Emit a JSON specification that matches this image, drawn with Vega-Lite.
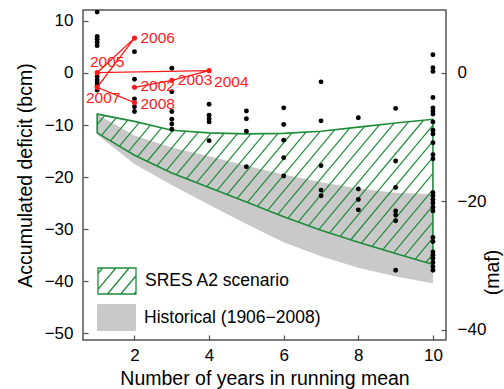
{
  "$schema": "https://vega.github.io/schema/vega-lite/v6.json",
  "width": 363,
  "height": 330,
  "autosize": {"type": "none"},
  "padding": {"left": 83, "top": 10, "right": 58, "bottom": 49},
  "config": {
    "font": "Liberation Sans",
    "view": {"stroke": "#555555", "strokeWidth": 1.5},
    "axis": {"domain": false, "grid": false, "tickSize": -5, "tickColor": "#555555", "tickWidth": 1.2, "labelFontSize": 17, "labelColor": "#000000", "titleFontSize": 19.5, "titleFontWeight": "normal", "titleColor": "#000000", "labelFont": "Liberation Sans", "titleFont": "Liberation Sans"},
    "legend": {"labelFontSize": 17.5, "labelColor": "#000000", "labelFont": "Liberation Sans", "labelOffset": 8, "labelLimit": 400, "symbolSize": 1444}
  },
  "datasets": {
    "hist": [
      {"n": 1, "d": -8.0, "d2": -11.8, "series": "Historical (1906−2008)"},
      {"n": 2, "d": -12.0, "d2": -17.5, "series": "Historical (1906−2008)"},
      {"n": 3, "d": -14.3, "d2": -21.5, "series": "Historical (1906−2008)"},
      {"n": 4, "d": -16.0, "d2": -25.3, "series": "Historical (1906−2008)"},
      {"n": 5, "d": -17.8, "d2": -29.0, "series": "Historical (1906−2008)"},
      {"n": 6, "d": -19.5, "d2": -32.5, "series": "Historical (1906−2008)"},
      {"n": 7, "d": -21.0, "d2": -35.2, "series": "Historical (1906−2008)"},
      {"n": 8, "d": -22.2, "d2": -37.4, "series": "Historical (1906−2008)"},
      {"n": 9, "d": -23.0, "d2": -39.1, "series": "Historical (1906−2008)"},
      {"n": 10, "d": -23.3, "d2": -40.4, "series": "Historical (1906−2008)"}
    ],
    "sres": [
      {"n": 1, "d": -7.9, "d2": -11.5, "series": "SRES A2 scenario"},
      {"n": 2, "d": -9.3, "d2": -15.8, "series": "SRES A2 scenario"},
      {"n": 3, "d": -11.0, "d2": -19.2, "series": "SRES A2 scenario"},
      {"n": 4, "d": -11.5, "d2": -22.0, "series": "SRES A2 scenario"},
      {"n": 5, "d": -11.7, "d2": -24.8, "series": "SRES A2 scenario"},
      {"n": 6, "d": -11.6, "d2": -27.6, "series": "SRES A2 scenario"},
      {"n": 7, "d": -11.2, "d2": -30.2, "series": "SRES A2 scenario"},
      {"n": 8, "d": -10.4, "d2": -32.5, "series": "SRES A2 scenario"},
      {"n": 9, "d": -9.6, "d2": -34.7, "series": "SRES A2 scenario"},
      {"n": 10, "d": -8.9, "d2": -36.8, "series": "SRES A2 scenario"}
    ],
    "hatch": [
      {"n": 1, "d": -9.9, "n2": 1.2, "d2": -8.18},
      {"n": 1.116, "d": -12.0, "n2": 1.51, "d2": -8.61},
      {"n": 1.357, "d": -13.03, "n2": 1.82, "d2": -9.05},
      {"n": 1.597, "d": -14.07, "n2": 2.126, "d2": -9.52},
      {"n": 1.837, "d": -15.1, "n2": 2.427, "d2": -10.03},
      {"n": 2.083, "d": -16.08, "n2": 2.728, "d2": -10.54},
      {"n": 2.342, "d": -16.96, "n2": 3.033, "d2": -11.02},
      {"n": 2.6, "d": -17.84, "n2": 3.374, "d2": -11.18},
      {"n": 2.858, "d": -18.72, "n2": 3.714, "d2": -11.36},
      {"n": 3.123, "d": -19.54, "n2": 4.057, "d2": -11.51},
      {"n": 3.395, "d": -20.3, "n2": 4.409, "d2": -11.58},
      {"n": 3.667, "d": -21.07, "n2": 4.761, "d2": -11.66},
      {"n": 3.939, "d": -21.83, "n2": 5.118, "d2": -11.69},
      {"n": 4.211, "d": -22.59, "n2": 5.482, "d2": -11.65},
      {"n": 4.482, "d": -23.35, "n2": 5.847, "d2": -11.62},
      {"n": 4.754, "d": -24.11, "n2": 6.22, "d2": -11.51},
      {"n": 5.026, "d": -24.87, "n2": 6.598, "d2": -11.36},
      {"n": 5.298, "d": -25.64, "n2": 6.976, "d2": -11.21},
      {"n": 5.57, "d": -26.4, "n2": 7.372, "d2": -10.9},
      {"n": 5.842, "d": -27.16, "n2": 7.769, "d2": -10.59},
      {"n": 6.116, "d": -27.9, "n2": 8.167, "d2": -10.27},
      {"n": 6.393, "d": -28.62, "n2": 8.564, "d2": -9.95},
      {"n": 6.67, "d": -29.34, "n2": 8.962, "d2": -9.63},
      {"n": 6.946, "d": -30.06, "n2": 9.354, "d2": -9.36},
      {"n": 7.229, "d": -30.73, "n2": 9.747, "d2": -9.08},
      {"n": 7.514, "d": -31.38, "n2": 10, "d2": -10.0},
      {"n": 7.798, "d": -32.04, "n2": 10, "d2": -13.1},
      {"n": 8.083, "d": -32.69, "n2": 10, "d2": -16.2},
      {"n": 8.37, "d": -33.32, "n2": 10, "d2": -19.3},
      {"n": 8.657, "d": -33.95, "n2": 10, "d2": -22.4},
      {"n": 8.944, "d": -34.58, "n2": 10, "d2": -25.5},
      {"n": 9.234, "d": -35.19, "n2": 10, "d2": -28.6},
      {"n": 9.523, "d": -35.8, "n2": 10, "d2": -31.7},
      {"n": 9.813, "d": -36.41, "n2": 10, "d2": -34.8}
    ],
    "dots": [
      {"n": 1, "d": 11.7}, {"n": 1, "d": 7.0}, {"n": 1, "d": 6.5}, {"n": 1, "d": 5.9}, {"n": 1, "d": 5.25},
      {"n": 1, "d": -0.7}, {"n": 1, "d": -1.35}, {"n": 1, "d": -1.9}, {"n": 1, "d": -2.4}, {"n": 1, "d": -3.3},
      {"n": 2, "d": 4.1}, {"n": 2, "d": -1.2}, {"n": 2, "d": -5.0}, {"n": 2, "d": -6.5}, {"n": 2, "d": -7.4},
      {"n": 3, "d": 0.9}, {"n": 3, "d": -3.6}, {"n": 3, "d": -7.4}, {"n": 3, "d": -8.9}, {"n": 3, "d": -9.8}, {"n": 3, "d": -10.8},
      {"n": 4, "d": -6.0}, {"n": 4, "d": -8.1}, {"n": 4, "d": -8.8}, {"n": 4, "d": -9.4}, {"n": 4, "d": -13.0},
      {"n": 5, "d": -7.3}, {"n": 5, "d": -8.8}, {"n": 5, "d": -11.2}, {"n": 5, "d": -18.0},
      {"n": 6, "d": -6.7}, {"n": 6, "d": -9.9}, {"n": 6, "d": -12.9}, {"n": 6, "d": -16.3}, {"n": 6, "d": -19.8},
      {"n": 7, "d": -1.7}, {"n": 7, "d": -9.2}, {"n": 7, "d": -17.8}, {"n": 7, "d": -22.5}, {"n": 7, "d": -23.6},
      {"n": 8, "d": -8.6}, {"n": 8, "d": -22.3}, {"n": 8, "d": -24.3}, {"n": 8, "d": -26.3},
      {"n": 9, "d": -6.8}, {"n": 9, "d": -16.9}, {"n": 9, "d": -22.0}, {"n": 9, "d": -26.5}, {"n": 9, "d": -27.3}, {"n": 9, "d": -28.4}, {"n": 9, "d": -37.9},
      {"n": 10, "d": 3.5}, {"n": 10, "d": 1.0}, {"n": 10, "d": 0.3}, {"n": 10, "d": -4.7}, {"n": 10, "d": -6.7}, {"n": 10, "d": -7.3}, {"n": 10, "d": -7.9},
      {"n": 10, "d": -9.4}, {"n": 10, "d": -11.0}, {"n": 10, "d": -11.7}, {"n": 10, "d": -13.4}, {"n": 10, "d": -15.7}, {"n": 10, "d": -16.5},
      {"n": 10, "d": -23.0}, {"n": 10, "d": -23.6}, {"n": 10, "d": -24.3}, {"n": 10, "d": -25.0}, {"n": 10, "d": -25.8}, {"n": 10, "d": -26.5},
      {"n": 10, "d": -31.6}, {"n": 10, "d": -32.4}, {"n": 10, "d": -34.4}, {"n": 10, "d": -35.0}, {"n": 10, "d": -35.6}, {"n": 10, "d": -36.4}, {"n": 10, "d": -37.2}, {"n": 10, "d": -37.9}
    ],
    "red": [
      {"year": 2002, "n": 2, "d": -2.75},
      {"year": 2003, "n": 3, "d": -1.4},
      {"year": 2004, "n": 4, "d": 0.45},
      {"year": 2005, "n": 1, "d": 0.06},
      {"year": 2006, "n": 2, "d": 6.7},
      {"year": 2007, "n": 1, "d": -2.75},
      {"year": 2008, "n": 2, "d": -5.7}
    ]
  },
  "layer": [
    {
      "encoding": {
        "x": {"field": "n", "type": "quantitative", "title": "Number of years in running mean",
          "scale": {"domain": [0.62, 10.35], "nice": false, "zero": false},
          "axis": {"values": [2, 4, 6, 8, 10], "labelPadding": 12, "titlePadding": 6}},
        "y": {"field": "d", "type": "quantitative", "title": "Accumulated deficit (bcm)",
          "scale": {"domain": [-51.3, 12.1], "nice": false, "zero": false},
          "axis": {"values": [10, 0, -10, -20, -30, -40, -50], "labelPadding": 15, "titlePadding": 9}}
      },
      "layer": [
        {
          "data": {"name": "hist"},
          "mark": {"type": "area", "opacity": 1},
          "encoding": {
            "y2": {"field": "d2"},
            "fill": {"field": "series", "type": "nominal",
              "scale": {"range": ["#c9c9c9"]},
              "legend": {
                "title": null, "orient": "none", "legendX": 14, "legendY": 288,
                "symbolType": "M-1,-0.684H1V0.684H-1Z",
                "symbolStrokeColor": "#c9c9c9", "symbolStrokeWidth": 1, "symbolOpacity": 1
              }}
          }
        },
        {
          "data": {"name": "hatch"},
          "mark": {"type": "rule", "color": "#1e8c3a", "strokeWidth": 1.2},
          "encoding": {"x2": {"field": "n2"}, "y2": {"field": "d2"}}
        },
        {
          "data": {"name": "sres"},
          "mark": {"type": "area", "filled": false, "strokeWidth": 1.6},
          "encoding": {
            "y2": {"field": "d2"},
            "stroke": {"field": "series", "type": "nominal",
              "scale": {"range": ["#1e8c3a"]},
              "legend": {
                "title": null, "orient": "none", "legendX": 14, "legendY": 251,
                "symbolType": "M-1,-0.684H1V0.684H-1Z M-1,-0.396L-0.76,-0.684 M-1,0.444L-0.06,-0.684 M-0.5,0.684L0.64,-0.684 M0.2,0.684L1,-0.276 M0.9,0.684L1,0.564",
                "symbolFillColor": "transparent", "symbolStrokeWidth": 1.3, "symbolOpacity": 1
              }}
          }
        },
        {
          "data": {"name": "dots"},
          "mark": {"type": "circle", "size": 24, "color": "#000000", "opacity": 1}
        },
        {
          "data": {"name": "red"},
          "mark": {"type": "line", "color": "#ff1a1a", "strokeWidth": 1.3},
          "encoding": {"order": {"field": "year", "type": "quantitative"}}
        },
        {
          "data": {"name": "red"},
          "mark": {"type": "circle", "size": 26, "color": "#ff1a1a", "opacity": 1}
        },
        {
          "data": {"name": "red"},
          "transform": [{"filter": {"field": "year", "oneOf": [2003, 2006]}}],
          "mark": {"type": "text", "color": "#ff1a1a", "fontSize": 15.5, "align": "left", "baseline": "middle", "dx": 6},
          "encoding": {"text": {"field": "year", "type": "nominal"}}
        },
        {
          "data": {"name": "red"},
          "transform": [{"filter": {"field": "year", "oneOf": [2002]}}],
          "mark": {"type": "text", "color": "#ff1a1a", "fontSize": 15.5, "align": "left", "baseline": "middle", "dx": 6, "dy": -1},
          "encoding": {"text": {"field": "year", "type": "nominal"}}
        },
        {
          "data": {"name": "red"},
          "transform": [{"filter": {"field": "year", "oneOf": [2008]}}],
          "mark": {"type": "text", "color": "#ff1a1a", "fontSize": 15.5, "align": "left", "baseline": "middle", "dx": 6, "dy": 1},
          "encoding": {"text": {"field": "year", "type": "nominal"}}
        },
        {
          "data": {"name": "red"},
          "transform": [{"filter": {"field": "year", "oneOf": [2004]}}],
          "mark": {"type": "text", "color": "#ff1a1a", "fontSize": 15.5, "align": "left", "baseline": "middle", "dx": 5, "dy": 11},
          "encoding": {"text": {"field": "year", "type": "nominal"}}
        },
        {
          "data": {"name": "red"},
          "transform": [{"filter": {"field": "year", "oneOf": [2005]}}],
          "mark": {"type": "text", "color": "#ff1a1a", "fontSize": 15.5, "align": "center", "baseline": "alphabetic", "dx": 10, "dy": -6},
          "encoding": {"text": {"field": "year", "type": "nominal"}}
        },
        {
          "data": {"name": "red"},
          "transform": [{"filter": {"field": "year", "oneOf": [2007]}}],
          "mark": {"type": "text", "color": "#ff1a1a", "fontSize": 15.5, "align": "center", "baseline": "alphabetic", "dx": 6, "dy": 16},
          "encoding": {"text": {"field": "year", "type": "nominal"}}
        }
      ]
    },
    {
      "data": {"values": [{"maf": 0}]},
      "mark": {"type": "point", "opacity": 0},
      "encoding": {
        "y": {"field": "maf", "type": "quantitative", "title": "(maf)",
          "scale": {"domain": [-41.59, 9.81], "nice": false, "zero": false},
          "axis": {"orient": "right", "values": [0, -20, -40], "labelPadding": 16, "titleAngle": -90, "titleX": 46, "titleY": 262, "titleAlign": "center", "titleBaseline": "middle"}}
      }
    }
  ],
  "resolve": {"scale": {"y": "independent"}, "axis": {"y": "independent"}}
}
